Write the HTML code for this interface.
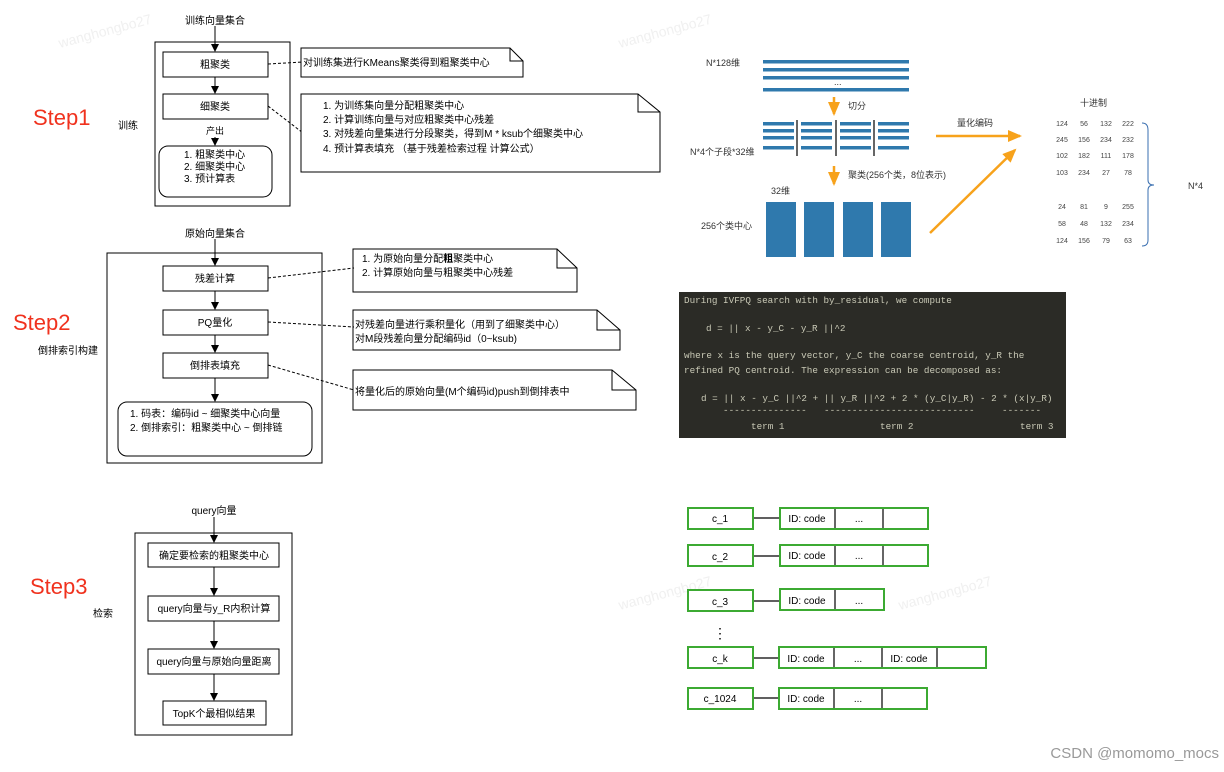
<!DOCTYPE html>
<html><head><meta charset="utf-8"><style>
html,body{margin:0;padding:0;background:#fff;}
svg{display:block;font-family:"Liberation Sans","Noto Sans CJK SC",sans-serif;}
.t{font-size:10px;fill:#000;}
.m{font-family:"Liberation Mono","DejaVu Sans Mono",monospace;font-size:9.3px;fill:#c9c9b6;}
.n{font-size:7px;fill:#444;text-anchor:middle;}
.g{fill:none;stroke:#3caa32;stroke-width:2;}
</style></head><body>
<svg width="1224" height="772" viewBox="0 0 1224 772" xmlns="http://www.w3.org/2000/svg">
<defs>
<marker id="a" markerWidth="8" markerHeight="8" refX="7" refY="4" orient="auto" markerUnits="userSpaceOnUse"><path d="M0,0 L8,4 L0,8 Z" fill="#000"/></marker>
<marker id="o" markerWidth="14" markerHeight="12" refX="12" refY="6" orient="auto" markerUnits="userSpaceOnUse"><path d="M0,0 L14,6 L0,12 Z" fill="#f7a21b"/></marker>
</defs>
<g fill="#e6e6e6" font-size="14" opacity="0.6">
<text x="60" y="48" transform="rotate(-15 60 48)">wanghongbo27</text>
<text x="620" y="48" transform="rotate(-15 620 48)">wanghongbo27</text>
<text x="620" y="610" transform="rotate(-15 620 610)">wanghongbo27</text>
<text x="900" y="610" transform="rotate(-15 900 610)">wanghongbo27</text>
</g>
<g fill="#f0321e" font-size="22">
<text x="33" y="125">Step1</text><text x="13" y="330">Step2</text><text x="30" y="594">Step3</text>
</g>
<text class="t" x="118" y="129">训练</text>
<text class="t" x="38" y="354">倒排索引构建</text>
<text class="t" x="93" y="617">检索</text>

<g stroke="#000" fill="none" stroke-width="1">
<rect x="155" y="42" width="135" height="164"/>
<rect x="163" y="52" width="105" height="25"/>
<rect x="163" y="94" width="105" height="25"/>
<rect x="159" y="146" width="113" height="51" rx="9"/>
<line x1="215" y1="26" x2="215" y2="51" marker-end="url(#a)"/>
<line x1="215" y1="77" x2="215" y2="93" marker-end="url(#a)"/>
<line x1="215" y1="137" x2="215" y2="145" marker-end="url(#a)"/>
<line x1="268" y1="64" x2="303" y2="62" stroke-dasharray="3,2"/>
<line x1="268" y1="106" x2="303" y2="133" stroke-dasharray="3,2"/>
</g>
<g class="t" text-anchor="middle">
<text x="215" y="24">训练向量集合</text>
<text x="215" y="68">粗聚类</text>
<text x="215" y="110">细聚类</text>
<text x="215" y="134" font-size="9">产出</text>
</g>
<g class="t"><text x="184" y="158">1. 粗聚类中心</text><text x="184" y="170">2. 细聚类中心</text><text x="184" y="182">3. 预计算表</text></g>

<g stroke="#000" fill="#fff" stroke-width="1">
<path d="M301,48 H510 L523,61 V77 H301 Z"/><path d="M510,48 V61 H523" fill="none"/>
<path d="M301,94 H638 L660,112 V172 H301 Z"/><path d="M638,94 V112 H660" fill="none"/>
<path d="M353,249 H557 L577,268 V292 H353 Z"/><path d="M557,249 V268 H577" fill="none"/>
<path d="M353,310 H597 L620,330 V350 H353 Z"/><path d="M597,310 V330 H620" fill="none"/>
<path d="M353,370 H612 L636,390 V410 H353 Z"/><path d="M612,370 V390 H636" fill="none"/>
</g>
<g class="t">
<text x="303" y="66">对训练集进行KMeans聚类得到粗聚类中心</text>
<text x="323" y="109">1. 为训练集向量分配粗聚类中心</text>
<text x="323" y="123">2. 计算训练向量与对应粗聚类中心残差</text>
<text x="323" y="137">3. 对残差向量集进行分段聚类，得到M * ksub个细聚类中心</text>
<text x="323" y="152">4. 预计算表填充 （基于残差检索过程 计算公式）</text>
<text x="362" y="262">1. 为原始向量分配<tspan font-weight="bold">粗</tspan>聚类中心</text>
<text x="362" y="276">2. 计算原始向量与粗聚类中心残差</text>
<text x="355" y="328">对残差向量进行乘积量化（用到了细聚类中心）</text>
<text x="355" y="342">对M段残差向量分配编码id（0~ksub)</text>
<text x="355" y="395">将量化后的原始向量(M个编码id)push到倒排表中</text>
</g>

<g stroke="#000" fill="none" stroke-width="1">
<rect x="107" y="253" width="215" height="210"/>
<rect x="163" y="266" width="105" height="25"/>
<rect x="163" y="310" width="105" height="25"/>
<rect x="163" y="353" width="105" height="25"/>
<rect x="118" y="402" width="194" height="54" rx="9"/>
<line x1="215" y1="239" x2="215" y2="265" marker-end="url(#a)"/>
<line x1="215" y1="291" x2="215" y2="309" marker-end="url(#a)"/>
<line x1="215" y1="335" x2="215" y2="352" marker-end="url(#a)"/>
<line x1="215" y1="378" x2="215" y2="401" marker-end="url(#a)"/>
<line x1="268" y1="278" x2="354" y2="268" stroke-dasharray="3,2"/>
<line x1="268" y1="322" x2="354" y2="327" stroke-dasharray="3,2"/>
<line x1="268" y1="365" x2="354" y2="390" stroke-dasharray="3,2"/>
</g>
<g class="t" text-anchor="middle">
<text x="215" y="237">原始向量集合</text>
<text x="215" y="282">残差计算</text>
<text x="215" y="326">PQ量化</text>
<text x="215" y="369">倒排表填充</text>
</g>
<g class="t"><text x="130" y="417">1. 码表：编码id ~ 细聚类中心向量</text><text x="130" y="431">2. 倒排索引：粗聚类中心 ~ 倒排链</text></g>

<g stroke="#000" fill="none" stroke-width="1">
<rect x="135" y="533" width="157" height="202"/>
<rect x="148" y="543" width="131" height="24"/>
<rect x="148" y="596" width="131" height="25"/>
<rect x="148" y="649" width="131" height="25"/>
<rect x="163" y="701" width="103" height="24"/>
<line x1="214" y1="517" x2="214" y2="542" marker-end="url(#a)"/>
<line x1="214" y1="567" x2="214" y2="595" marker-end="url(#a)"/>
<line x1="214" y1="621" x2="214" y2="648" marker-end="url(#a)"/>
<line x1="214" y1="674" x2="214" y2="700" marker-end="url(#a)"/>
</g>
<g class="t" text-anchor="middle">
<text x="214" y="514">query向量</text>
<text x="214" y="559">确定要检索的粗聚类中心</text>
<text x="214" y="612">query向量与y_R内积计算</text>
<text x="214" y="665">query向量与原始向量距离</text>
<text x="214" y="717">TopK个最相似结果</text>
</g>

<g font-size="9" fill="#333">
<text x="706" y="66">N*128维</text>
<text x="690" y="155">N*4个子段*32维</text>
<text x="848" y="109">切分</text>
<text x="848" y="178">聚类(256个类，8位表示)</text>
<text x="771" y="194">32维</text>
<text x="701" y="229">256个类中心</text>
<text x="957" y="126">量化编码</text>
<text x="1080" y="106">十进制</text>
<text x="1188" y="189">N*4</text>
<text x="834" y="85">...</text>
</g>
<g fill="#2f79ad">
<rect x="763" y="60" width="146" height="3.5"/><rect x="763" y="68" width="146" height="3.5"/><rect x="763" y="76" width="146" height="3.5"/><rect x="763" y="88" width="146" height="3.5"/>
<rect x="763" y="122" width="31" height="3.5"/><rect x="763" y="129" width="31" height="3.5"/><rect x="763" y="136" width="31" height="3.5"/><rect x="763" y="146" width="31" height="3.5"/>
<rect x="801" y="122" width="31" height="3.5"/><rect x="801" y="129" width="31" height="3.5"/><rect x="801" y="136" width="31" height="3.5"/><rect x="801" y="146" width="31" height="3.5"/>
<rect x="840" y="122" width="31" height="3.5"/><rect x="840" y="129" width="31" height="3.5"/><rect x="840" y="136" width="31" height="3.5"/><rect x="840" y="146" width="31" height="3.5"/>
<rect x="878" y="122" width="31" height="3.5"/><rect x="878" y="129" width="31" height="3.5"/><rect x="878" y="136" width="31" height="3.5"/><rect x="878" y="146" width="31" height="3.5"/>
<rect x="766" y="202" width="30" height="55"/><rect x="804" y="202" width="30" height="55"/><rect x="843" y="202" width="30" height="55"/><rect x="881" y="202" width="30" height="55"/>
</g>
<g stroke="#000" stroke-width="1.2"><line x1="797" y1="120" x2="797" y2="156"/><line x1="836" y1="120" x2="836" y2="156"/><line x1="874" y1="120" x2="874" y2="156"/></g>
<g stroke="#f7a21b" stroke-width="2.5" fill="none">
<line x1="834" y1="97" x2="834" y2="114" marker-end="url(#o)"/>
<line x1="834" y1="166" x2="834" y2="184" marker-end="url(#o)"/>
<line x1="936" y1="136" x2="1020" y2="136" marker-end="url(#o)"/>
<line x1="930" y1="233" x2="1015" y2="150" marker-end="url(#o)"/>
</g>
<g class="n">
<text x="1062" y="126">124</text><text x="1084" y="126">56</text><text x="1106" y="126">132</text><text x="1128" y="126">222</text>
<text x="1062" y="142">245</text><text x="1084" y="142">156</text><text x="1106" y="142">234</text><text x="1128" y="142">232</text>
<text x="1062" y="158">102</text><text x="1084" y="158">182</text><text x="1106" y="158">111</text><text x="1128" y="158">178</text>
<text x="1062" y="175">103</text><text x="1084" y="175">234</text><text x="1106" y="175">27</text><text x="1128" y="175">78</text>
<text x="1062" y="209">24</text><text x="1084" y="209">81</text><text x="1106" y="209">9</text><text x="1128" y="209">255</text>
<text x="1062" y="226">58</text><text x="1084" y="226">48</text><text x="1106" y="226">132</text><text x="1128" y="226">234</text>
<text x="1062" y="243">124</text><text x="1084" y="243">156</text><text x="1106" y="243">79</text><text x="1128" y="243">63</text>
</g>
<path d="M1142,123 Q1148,123 1148,130 V180 Q1148,185 1154,185 Q1148,185 1148,190 V240 Q1148,246 1142,246" fill="none" stroke="#3a6fb0" stroke-width="1"/>

<rect x="679" y="292" width="387" height="146" fill="#2b2b26"/>
<g class="m">
<text x="684" y="303">During IVFPQ search with by_residual, we compute</text>
<text x="706" y="331">d = || x - y_C - y_R ||^2</text>
<text x="684" y="358">where x is the query vector, y_C the coarse centroid, y_R the</text>
<text x="684" y="373">refined PQ centroid. The expression can be decomposed as:</text>
<text x="701" y="401">d = || x - y_C ||^2 + || y_R ||^2 + 2 * (y_C|y_R) - 2 * (x|y_R)</text>
<text x="723" y="413">---------------</text>
<text x="824" y="413">---------------------------</text>
<text x="1002" y="413">-------</text>
<text x="751" y="429">term 1</text>
<text x="880" y="429">term 2</text>
<text x="1020" y="429">term 3</text>
</g>

<g stroke="#000" stroke-width="1.2">
<line x1="753" y1="518" x2="780" y2="518"/><line x1="753" y1="556" x2="780" y2="556"/><line x1="753" y1="601" x2="780" y2="601"/><line x1="753" y1="658" x2="779" y2="658"/><line x1="753" y1="698" x2="779" y2="698"/>
<line x1="835" y1="508" x2="835" y2="529"/><line x1="883" y1="508" x2="883" y2="529"/>
<line x1="835" y1="545" x2="835" y2="566"/><line x1="883" y1="545" x2="883" y2="566"/>
<line x1="835" y1="589" x2="835" y2="610"/>
<line x1="834" y1="647" x2="834" y2="668"/><line x1="882" y1="647" x2="882" y2="668"/><line x1="937" y1="647" x2="937" y2="668"/>
<line x1="834" y1="688" x2="834" y2="709"/><line x1="882" y1="688" x2="882" y2="709"/>
</g>
<g class="g">
<rect x="688" y="508" width="65" height="21"/><rect x="780" y="508" width="148" height="21"/>
<rect x="688" y="545" width="65" height="21"/><rect x="780" y="545" width="148" height="21"/>
<rect x="688" y="590" width="65" height="21"/><rect x="780" y="589" width="104" height="21"/>
<rect x="688" y="647" width="65" height="21"/><rect x="779" y="647" width="207" height="21"/>
<rect x="688" y="688" width="65" height="21"/><rect x="779" y="688" width="148" height="21"/>
</g>
<g class="t" text-anchor="middle" font-size="10.5" fill="#333">
<text x="720" y="522">c_1</text><text x="720" y="560">c_2</text><text x="720" y="605">c_3</text><text x="720" y="662">c_k</text><text x="720" y="702">c_1024</text>
<text x="807" y="522">ID: code</text><text x="859" y="522">...</text>
<text x="807" y="559">ID: code</text><text x="859" y="559">...</text>
<text x="807" y="604">ID: code</text><text x="859" y="604">...</text>
<text x="806" y="662">ID: code</text><text x="858" y="662">...</text><text x="909" y="662">ID: code</text>
<text x="806" y="702">ID: code</text><text x="858" y="702">...</text>
<text x="720" y="638" font-size="14">⋮</text>
</g>
<text x="1219" y="758" font-size="15" fill="#999" text-anchor="end">CSDN @momomo_mocs</text>
</svg>
</body></html>
